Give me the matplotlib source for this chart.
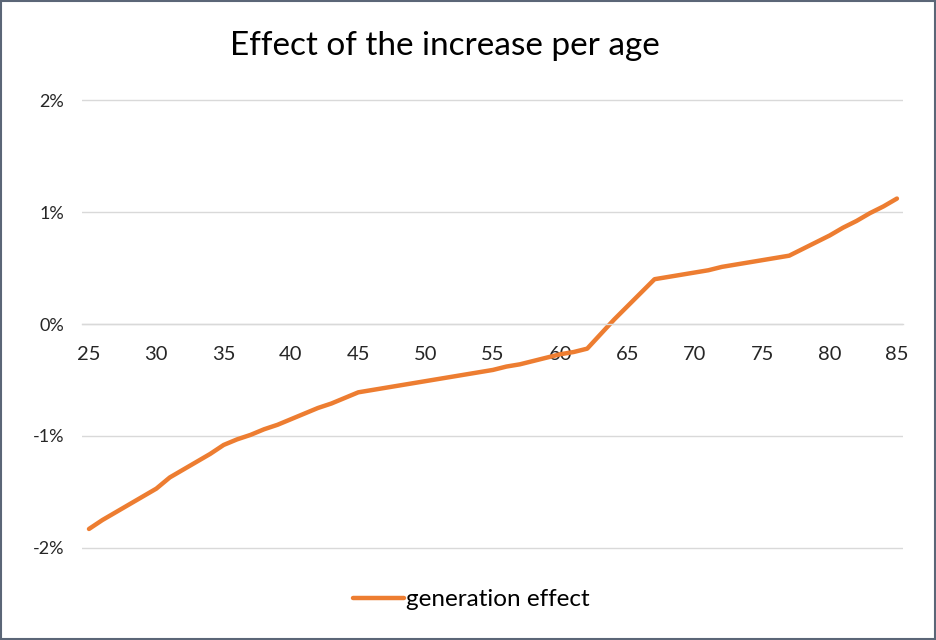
import matplotlib
matplotlib.use("Agg")
import matplotlib.pyplot as plt
from matplotlib.patches import Rectangle
from matplotlib.ticker import FuncFormatter

ages = list(range(25, 86))
generation_effect = [
    -1.83, -1.75, -1.68, -1.61, -1.54, -1.47, -1.37, -1.30, -1.23, -1.16,
    -1.08, -1.03, -0.99, -0.94, -0.90, -0.85, -0.80, -0.75, -0.71, -0.66,
    -0.61, -0.59, -0.57, -0.55, -0.53, -0.51, -0.49, -0.47, -0.45, -0.43,
    -0.41, -0.38, -0.36, -0.33, -0.30, -0.27, -0.25, -0.22, -0.09, 0.04,
    0.16, 0.28, 0.40, 0.42, 0.44, 0.46, 0.48, 0.51, 0.53, 0.55,
    0.57, 0.59, 0.61, 0.67, 0.73, 0.79, 0.86, 0.92, 0.99, 1.05,
    1.12,
]
x_ticks = [25, 30, 35, 40, 45, 50, 55, 60, 65, 70, 75, 80, 85]
y_ticks = [-2, -1, 0, 1, 2]
title = "Effect of the increase per age"
series_label = "generation effect"

plt.rcParams['font.family'] = ['Lato', 'DejaVu Sans']

fig = plt.figure(figsize=(9.37, 6.40), dpi=100)
ax = fig.add_axes([0.0875, 0.12625, 0.8762, 0.7350])

ax.plot(ages, generation_effect, color="#ED7D31", lw=3.2, label=series_label,
        solid_capstyle="round", solid_joinstyle="round")

ax.set_xlim(24.48, 85.45)
ax.set_ylim(-2.1, 2.1)
ax.set_xticks(x_ticks)
ax.set_yticks(y_ticks)
ax.yaxis.set_major_formatter(FuncFormatter(lambda v, p: f"{int(round(v))}%"))
ax.grid(axis="y", color="#d9d9d9", lw=1.0)
ax.set_axisbelow(True)

for s in ["top", "right", "left"]:
    ax.spines[s].set_visible(False)
ax.spines["bottom"].set_position(("data", 0))
ax.spines["bottom"].set_color("#d9d9d9")
ax.spines["bottom"].set_linewidth(1.0)

ax.tick_params(axis="x", length=0, pad=16, labelsize=14.5, labelcolor="#262626")
ax.tick_params(axis="y", length=0, pad=13, labelsize=13, labelcolor="#262626")

fig.text(0.475, 0.928, title, ha="center", va="center", fontsize=24,
         color="black")

leg = ax.legend(loc="center", bbox_to_anchor=(0.503, 0.063),
                bbox_transform=fig.transFigure, frameon=False, fontsize=17.5,
                handlelength=2.1, handletextpad=0.1)

fig.patches.append(Rectangle((0.001, 0.001), 0.997, 0.997, transform=fig.transFigure,
                             fill=False, edgecolor="#5b6677", lw=1.5))

fig.savefig("out.png", dpi=100)
